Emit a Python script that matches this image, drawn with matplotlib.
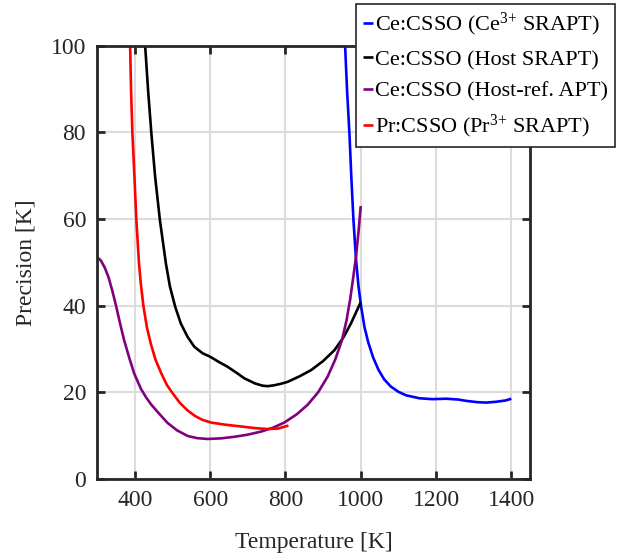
import matplotlib
matplotlib.use("Agg")
import matplotlib.pyplot as plt

plt.rcParams['font.family'] = ['Liberation Serif', 'DejaVu Serif']
plt.rcParams['mathtext.fontset'] = 'custom'
plt.rcParams['mathtext.rm'] = 'Liberation Serif'

# Ce:CSSO (Ce3+ SRAPT)
t_ce = [958.5, 961, 963.8, 967, 970, 975, 980.6, 987.7, 994, 1001, 1010, 1020, 1033, 1047,
        1062, 1080, 1100, 1120, 1156, 1190, 1227, 1260, 1280, 1310, 1333, 1360, 1385, 1400]
p_ce = [100, 95, 89.5, 84.5, 79.7, 69.7, 59.8, 50.4, 44.5, 39.8, 35.0, 31.5, 28.0, 25.2,
        23.0, 21.3, 20.1, 19.3, 18.6, 18.4, 18.5, 18.3, 18.0, 17.7, 17.6, 17.8, 18.1, 18.5]

# Ce:CSSO (Host SRAPT)
t_host = [427.4, 435.4, 444, 454, 466.5, 482.4, 493, 507, 522, 540, 558, 580, 600,
          623, 646, 670, 691, 720, 740, 753, 770, 790, 806, 838, 868, 900, 930, 955, 974, 1000]
p_host = [100, 89.5, 79.7, 69.7, 59.8, 49.8, 44.5, 39.8, 35.9, 32.8, 30.5, 29.0, 28.2,
          27.0, 25.9, 24.5, 23.2, 22.0, 21.5, 21.4, 21.6, 22.0, 22.4, 23.7, 25.1, 27.2, 29.7, 32.8, 35.9, 40.8]

# Ce:CSSO (Host-ref. APT)
t_ref = [300, 310, 320, 330, 340, 350, 360, 371, 385, 398, 407, 416, 430, 443, 465,
         487, 512, 540, 565, 593, 630, 664, 700, 735, 767, 797, 830, 859, 887, 912,
         932, 950, 962, 972, 980, 987, 994, 1000]
p_ref = [51.2, 50.4, 48.8, 46.6, 43.5, 40.0, 36.2, 32.2, 28.0, 24.4, 22.6, 20.8, 18.8, 17.2, 15.0,
         12.9, 11.2, 9.9, 9.4, 9.2, 9.35, 9.7, 10.2, 10.9, 11.8, 13.0, 14.9, 17.1, 20.0, 23.6,
         27.5, 32.0, 36.5, 41.5, 46.5, 51.0, 57.0, 63.0]

# Pr:CSSO (Pr3+ SRAPT)
t_pr = [387.5, 390, 393.6, 399, 404, 411, 416, 423, 432, 443, 455, 470, 485, 500, 520,
        540, 560, 580, 602, 640, 691, 720, 753, 780, 808]
p_pr = [100, 89.5, 79.7, 69.7, 59.8, 49.8, 45.0, 39.8, 35.0, 31.0, 27.5, 24.4, 21.7, 19.8, 17.5,
        15.8, 14.5, 13.6, 13.0, 12.5, 12.0, 11.7, 11.5, 11.6, 12.3]

labels = ['Ce:CSSO (Ce$\\mathregular{^{3{+}}}$ SRAPT)', 'Ce:CSSO (Host SRAPT)',
          'Ce:CSSO (Host-ref. APT)', 'Pr:CSSO (Pr$\\mathregular{^{3{+}}}$ SRAPT)']
xticks = [400, 600, 800, 1000, 1200, 1400]
yticks = [0, 20, 40, 60, 80, 100]

fig = plt.figure(figsize=(6.23, 5.6), dpi=100)
ax = fig.add_axes([0.156, 0.145, 0.695, 0.773])

kw = dict(lw=1.9, solid_joinstyle='round', solid_capstyle='butt')
l1, = ax.plot(t_ce, p_ce, color='#0000ff', label=labels[0], **kw)
l2, = ax.plot(t_host, p_host, color='#000000', label=labels[1], **kw)
l3, = ax.plot(t_ref, p_ref, color='#800080', label=labels[2], **kw)
l4, = ax.plot(t_pr, p_pr, color='#ff0000', label=labels[3], **kw)

ax.set_xlim(300, 1450)
ax.set_ylim(0, 100)
ax.set_xticks(xticks)
ax.set_yticks(yticks)
ax.grid(True, color='#dcdcdc', lw=1.5)
ax.set_axisbelow(True)
ax.tick_params(direction='in', length=6, width=2, top=True, right=True,
               labelsize=17, colors='#262626', pad=8)
for s in ax.spines.values():
    s.set_linewidth(2)
    s.set_color('#262626')

ax.set_xlabel('Temperature [K]', fontsize=17, color='#262626', labelpad=15)
ax.set_ylabel('Precision [K]', fontsize=17, color='#262626', labelpad=10)

leg = fig.legend(handles=[l1, l2, l3, l4], loc='upper right',
                 bbox_to_anchor=(0.987, 0.992), fontsize=16, handlelength=0.45,
                 handletextpad=0.1, borderaxespad=0, borderpad=0.3, labelspacing=0.5,
                 fancybox=False, framealpha=1, edgecolor='#262626')
leg.get_frame().set_linewidth(1.2)

fig.savefig('out.png', dpi=100)
